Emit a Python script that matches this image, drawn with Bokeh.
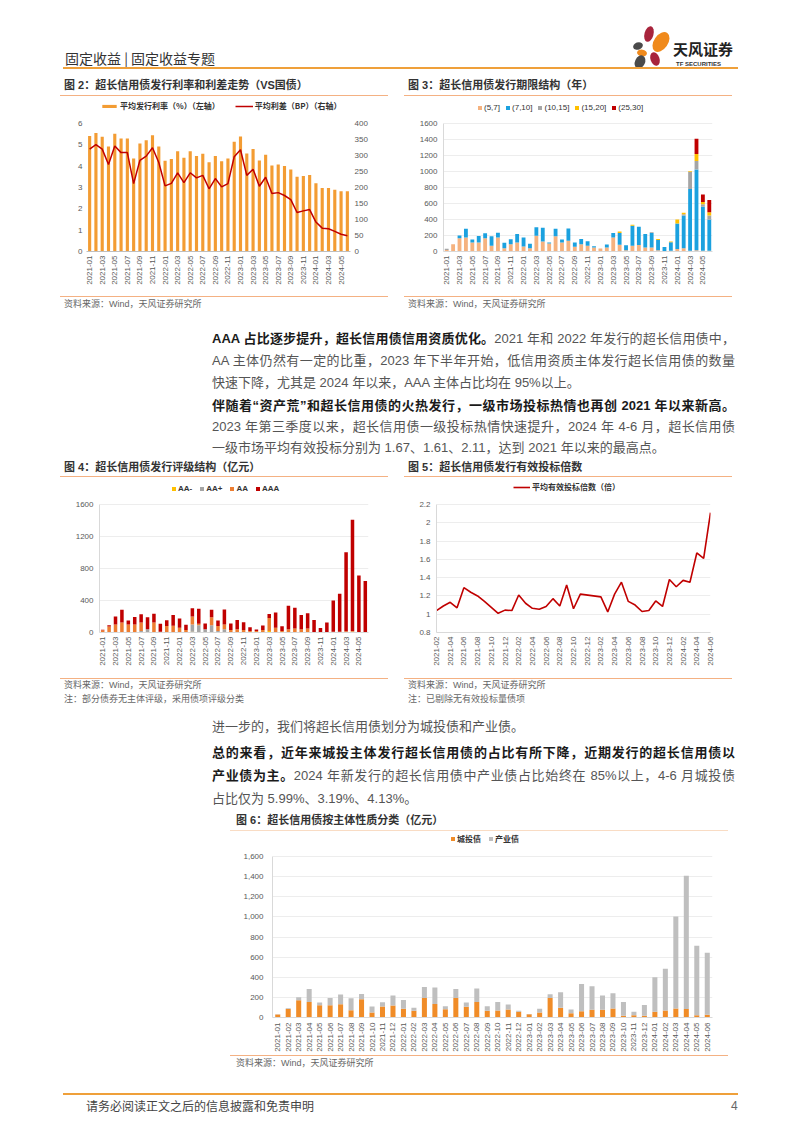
import math
from bokeh.plotting import figure
from bokeh.models import (Range1d, LinearAxis, FixedTicker, Legend, LegendItem, Div, Spacer,
                          NumeralTickFormatter)
from bokeh.layouts import column, row
from bokeh.embed import file_html
from bokeh.resources import INLINE

# ---------------- data ----------------
months = ["2021-01", "2021-02", "2021-03", "2021-04", "2021-05", "2021-06", "2021-07", "2021-08",
          "2021-09", "2021-10", "2021-11", "2021-12", "2022-01", "2022-02", "2022-03", "2022-04",
          "2022-05", "2022-06", "2022-07", "2022-08", "2022-09", "2022-10", "2022-11", "2022-12",
          "2023-01", "2023-02", "2023-03", "2023-04", "2023-05", "2023-06", "2023-07", "2023-08",
          "2023-09", "2023-10", "2023-11", "2023-12", "2024-01", "2024-02", "2024-03", "2024-04",
          "2024-05", "2024-06"]

# Fig 2: average issue rate (%) and average spread (BP)
avg_rate = [5.41, 5.55, 5.38, 4.92, 5.52, 5.30, 5.30, 4.36, 5.06, 5.22, 5.45, 4.92,
            4.25, 4.34, 4.70, 4.39, 4.70, 4.48, 4.58, 4.18, 4.48, 4.23, 4.36, 5.14,
            5.39, 4.59, 4.81, 4.26, 4.53, 4.03, 4.08, 4.01, 3.84, 3.50, 3.54, 3.59,
            3.20, 2.98, 2.98, 2.90, 2.82, 2.82]
avg_spread = [320, 334, 320, 272, 330, 309, 309, 212, 285, 298, 324, 278,
              205, 213, 246, 215, 246, 230, 238, 196, 228, 202, 212, 296,
              318, 238, 257, 204, 232, 181, 184, 175, 162, 122, 127, 131,
              92, 73, 71, 63, 54, 49]

# Fig 3: term structure (亿元)
term_labels = ["(5,7]", "(7,10]", "(10,15]", "(15,20]", "(25,30]"]
term_5_7 = [20, 92, 167, 175, 113, 113, 167, 71, 175, 42, 92, 113, 63, 42, 197, 125, 100, 192, 113, 134,
            59, 92, 71, 50, 36, 50, 175, 84, 17, 71, 80, 50, 50, 17, 0, 10, 30, 40, 10, 15, 10, 10]
term_7_10 = [0, 0, 34, 109, 36, 82, 61, 120, 59, 67, 60, 105, 112, 54, 107, 172, 12, 92, 36, 153,
             53, 63, 58, 16, 0, 36, 56, 147, 62, 252, 230, 168, 181, 128, 56, 105, 320, 410, 770, 1010, 550, 390]
term_10_15 = [13, 0, 0, 0, 0, 0, 0, 0, 0, 0, 0, 0, 0, 0, 0, 0, 0, 0, 0, 0,
              0, 0, 0, 0, 0, 0, 0, 0, 0, 0, 0, 0, 10, 0, 0, 0, 0, 15, 215, 105, 30, 50]
term_15_20 = [0, 0, 0, 0, 0, 0, 0, 0, 0, 0, 0, 0, 0, 0, 0, 0, 0, 0, 0, 0,
              0, 0, 0, 0, 0, 0, 0, 20, 0, 10, 0, 0, 0, 10, 0, 10, 49, 20, 8, 90, 30, 40]
term_25_30 = [0, 0, 0, 0, 0, 0, 0, 0, 0, 0, 0, 0, 0, 0, 0, 0, 0, 0, 0, 0,
              0, 0, 0, 0, 0, 0, 0, 0, 0, 0, 0, 0, 0, 0, 0, 0, 0, 0, 0, 189, 93, 154]

# Fig 4: rating structure (亿元)
rating_labels = ["AA-", "AA+", "AA", "AAA"]
rating_AAm = [0, 5, 0, 0, 0, 0, 0, 0, 0, 0, 0, 0, 0, 0, 10, 0, 0, 0, 0, 0,
              0, 0, 0, 0, 0, 0, 20, 0, 0, 0, 0, 0, 0, 0, 0, 0, 0, 0, 0, 0, 0, 0]
rating_AAp = [3, 0, 0, 0, 0, 0, 20, 40, 0, 0, 0, 0, 0, 0, 90, 90, 40, 90, 20, 40,
              0, 0, 0, 0, 0, 0, 0, 0, 0, 0, 0, 0, 0, 0, 0, 0, 0, 0, 5, 10, 0, 0]
rating_AA = [25, 70, 100, 125, 100, 100, 105, 0, 125, 10, 80, 85, 60, 30, 100, 20, 0, 100, 60, 60,
             30, 40, 30, 20, 20, 30, 160, 60, 20, 40, 50, 40, 50, 5, 0, 5, 10, 10, 10, 10, 5, 5]
rating_AAA = [5, 17, 101, 159, 49, 95, 103, 151, 109, 99, 72, 133, 115, 66, 104, 187, 72, 94, 69, 187,
              82, 115, 99, 46, 16, 56, 51, 191, 59, 293, 260, 178, 191, 150, 56, 120, 389, 475, 988, 1389, 708, 639]

# Fig 5: average effective bid multiple
bid_months = ["2021-02", "2021-03", "2021-04", "2021-05", "2021-06", "2021-07", "2021-08", "2021-09",
              "2021-10", "2021-11", "2021-12", "2022-01", "2022-02", "2022-03", "2022-04", "2022-05",
              "2022-06", "2022-07", "2022-08", "2022-09", "2022-10", "2022-11", "2023-02", "2023-03",
              "2023-04", "2023-05", "2023-06", "2023-07", "2023-08", "2023-09", "2023-10", "2023-11",
              "2023-12", "2024-01", "2024-02", "2024-03", "2024-04", "2024-05", "2024-06"]
bid_multiple = [1.04, 1.09, 1.13, 1.07, 1.29, 1.24, 1.20, 1.14, 1.075, 1.01, 1.045, 1.04, 1.21, 1.12,
                1.065, 1.055, 1.085, 1.17, 1.09, 1.32, 1.06, 1.22, 1.19, 1.025, 1.22, 1.35, 1.14, 1.10,
                1.03, 1.04, 1.145, 1.085, 1.38, 1.30, 1.37, 1.35, 1.67, 1.61, 2.11]

# Fig 6: issuer type (亿元)
chengtou = [30, 85, 172, 155, 122, 122, 132, 73, 182, 50, 109, 119, 86, 66, 195, 135, 83, 195, 106, 155,
            66, 69, 79, 56, 33, 50, 195, 96, 43, 63, 76, 76, 89, 17, 23, 17, 56, 69, 89, 84, 23, 27]
chanye = [3, 7, 29, 129, 27, 73, 96, 118, 52, 59, 43, 99, 89, 30, 109, 162, 29, 89, 43, 132,
          46, 86, 50, 10, 3, 36, 36, 155, 36, 270, 234, 142, 152, 138, 33, 108, 343, 416, 914, 1325, 690, 617]

# ---------------- styling helpers ----------------
CJK = "'Noto Sans CJK SC', sans-serif"
MIX = "'Liberation Sans', 'Noto Sans CJK SC', sans-serif"
LINE_OR = "#F4B183"
HEAD_OR = "#EFA03A"
PW = 802


def t(x, yc, s, size, color="#333", weight="normal", family=MIX, lh=None, extra=""):
    lh = lh or size + 8
    return (f'<div style="position:absolute;left:{x}px;top:{yc - lh / 2:.1f}px;height:{lh}px;'
            f'line-height:{lh}px;font-size:{size}px;color:{color};font-weight:{weight};'
            f'font-family:{family};white-space:nowrap;{extra}">{s}</div>')


def pline(x, yc, s, width, justify=True, size=13):
    lh = 16
    al = "text-align:justify;text-align-last:justify;" if justify else "text-align:left;"
    return (f'<div style="position:absolute;left:{x}px;top:{yc - lh / 2:.1f}px;width:{width}px;height:{lh}px;'
            f'line-height:{lh}px;font-size:{size}px;color:#555;font-family:{MIX};overflow:visible;{al}">{s}</div>')


def hl(x, y, w, th, color):
    return f'<div style="position:absolute;left:{x}px;top:{y}px;width:{w}px;height:{th}px;background:{color};"></div>'


def block(w, h, parts):
    html = f'<div style="position:relative;width:{w}px;height:{h}px;overflow:hidden;">{"".join(parts)}</div>'
    return Div(text=html, width=w, height=h, margin=(0, 0, 0, 0))


def base_fig(w, h, l, r, b, xr, y0, y1, head_px, plot_px):
    # the frame also holds a legend strip of head_px above the top value
    y_end = y0 + (y1 - y0) * (plot_px + head_px) / plot_px
    p = figure(width=w, height=h, x_range=xr, y_range=Range1d(y0, y_end), output_backend="svg",
               toolbar_location=None, min_border_left=l, min_border_right=r,
               min_border_top=0, min_border_bottom=b, outline_line_color=None,
               background_fill_color="white", border_fill_color="white", margin=(0, 0, 0, 0))
    p.xgrid.visible = False
    return p


def style_axis(ax, line_color="#BFBFBF", standoff=4, bounds=None):
    ax.major_tick_line_color = None
    ax.minor_tick_line_color = None
    ax.major_tick_out = 0
    ax.major_tick_in = 0
    ax.minor_tick_out = 0
    ax.minor_tick_in = 0
    ax.major_label_text_font = "Liberation Sans"
    ax.major_label_text_font_size = "8px"
    ax.major_label_text_color = "#595959"
    ax.major_label_standoff = standoff
    ax.axis_line_color = line_color
    if bounds is not None:
        ax.bounds = bounds


def month_xaxis(p, labels, step):
    ax = p.xaxis[0]
    idx = list(range(0, len(labels), step))
    ax.ticker = FixedTicker(ticks=idx)
    ax.major_label_overrides = {i: labels[i] for i in idx}
    ax.major_label_orientation = math.pi / 2


def add_legend(p, items, x, y, gw, gh, spacing, bold=True, font="Noto Sans CJK SC", standoff=2):
    lg = Legend(items=items, location=(x, y), orientation="horizontal", padding=0, margin=0,
                spacing=spacing, label_standoff=standoff, glyph_width=gw, glyph_height=gh,
                label_height=10, label_width=5, border_line_color=None, background_fill_alpha=0,
                label_text_font=font, label_text_font_size="8px", label_text_color="#333",
                label_text_font_style="bold" if bold else "normal")
    p.add_layout(lg, "center")


xs = list(range(len(months)))
XR = (-0.5, len(months) - 0.5)

# ---------------- Fig 2 ----------------
p2 = base_fig(328, 200, 26, 38, 45, Range1d(*XR), 0, 6, 27, 128)
p2.extra_y_ranges = {"bp": Range1d(0, 400 * (128 + 27) / 128)}
r_bar2 = p2.vbar(x=xs, top=avg_rate, width=0.5, color="#F39C33", line_color=None)
r_line2 = p2.line(x=xs, y=avg_spread, y_range_name="bp", color="#C00000", line_width=1.5)
p2.add_layout(LinearAxis(y_range_name="bp", ticker=FixedTicker(ticks=list(range(0, 401, 50)))), "right")
p2.yaxis[0].ticker = FixedTicker(ticks=[0, 1, 2, 3, 4, 5, 6])
p2.ygrid.visible = False
for ax in p2.yaxis:
    style_axis(ax, None, 4)
style_axis(p2.xaxis[0], "#BFBFBF", 4)
month_xaxis(p2, months, 2)
add_legend(p2, [LegendItem(label="平均发行利率（%）（左轴）", renderers=[r_bar2]),
                LegendItem(label="平均利差（BP）（右轴）", renderers=[r_line2])],
           14, 140, 18, 4, 15)

# ---------------- Fig 3 ----------------
p3 = base_fig(328, 200, 39, 20, 45, Range1d(*XR), 0, 1600, 27, 128)
src3 = {"x": xs, "a": term_5_7, "b": term_7_10, "c": term_10_15, "d": term_15_20, "e": term_25_30}
r3 = p3.vbar_stack(["a", "b", "c", "d", "e"], x="x", width=0.6, source=src3,
                   color=["#F5B27F", "#1BA1DF", "#A5A5A5", "#FFC000", "#C00000"], line_color=None)
p3.yaxis[0].ticker = FixedTicker(ticks=list(range(0, 1601, 200)))
p3.ygrid.grid_line_color = "#EDEDED"
style_axis(p3.yaxis[0], "#D9D9D9", 6, (0, 1600))
style_axis(p3.xaxis[0], "#D9D9D9", 4)
month_xaxis(p3, months, 2)
add_legend(p3, [LegendItem(label=term_labels[i], renderers=[r3[i]]) for i in range(5)],
           34, 139, 5, 5, 5, bold=False, font="Liberation Sans")

# ---------------- Fig 4 ----------------
p4 = base_fig(328, 200, 39, 20, 46, Range1d(*XR), 0, 1600, 26, 128)
src4 = {"x": xs, "a": rating_AAm, "b": rating_AAp, "c": rating_AA, "d": rating_AAA}
r4 = p4.vbar_stack(["a", "b", "c", "d"], x="x", width=0.55, source=src4,
                   color=["#FFC000", "#A5A5A5", "#ED7D31", "#C00000"], line_color=None)
p4.yaxis[0].ticker = FixedTicker(ticks=[0, 400, 800, 1200, 1600])
p4.ygrid.grid_line_color = "#EDEDED"
style_axis(p4.yaxis[0], "#D9D9D9", 6, (0, 1600))
style_axis(p4.xaxis[0], "#D9D9D9", 4)
month_xaxis(p4, months, 2)
add_legend(p4, [LegendItem(label=rating_labels[i], renderers=[r4[i]]) for i in range(4)],
           72, 139, 5, 5, 7, bold=True, font="Liberation Sans")

# ---------------- Fig 5 ----------------
bid_axis = months[1:]
p5 = base_fig(328, 200, 32, 22, 46, Range1d(0, len(bid_axis) - 1), 0.8, 2.2, 26, 128)
bx = [bid_axis.index(m) for m in bid_months]
r5 = p5.line(x=bx, y=bid_multiple, color="#C00000", line_width=1.6)
yt5 = [0.8, 1.0, 1.2, 1.4, 1.6, 1.8, 2.0, 2.2]
p5.yaxis[0].ticker = FixedTicker(ticks=yt5)
p5.yaxis[0].major_label_overrides = {0.8: "0.8", 1.0: "1", 1.2: "1.2", 1.4: "1.4", 1.6: "1.6",
                                     1.8: "1.8", 2.0: "2", 2.2: "2.2"}
p5.ygrid.grid_line_color = "#EDEDED"
style_axis(p5.yaxis[0], "#D9D9D9", 6, (0.8, 2.2))
style_axis(p5.xaxis[0], "#D9D9D9", 4)
month_xaxis(p5, bid_axis, 2)
add_legend(p5, [LegendItem(label="平均有效投标倍数（倍）", renderers=[r5])], 77, 140, 17, 4, 5)

# ---------------- Fig 6 ----------------
p6 = base_fig(498, 223, 42, 16, 38, Range1d(*XR), 0, 1600, 24, 161)
src6 = {"x": xs, "a": chengtou, "b": chanye}
r6 = p6.vbar_stack(["a", "b"], x="x", width=0.48, source=src6, color=["#F08C28", "#BFBFBF"],
                   line_color=None)
p6.yaxis[0].ticker = FixedTicker(ticks=list(range(0, 1601, 200)))
p6.yaxis[0].formatter = NumeralTickFormatter(format="0,0")
p6.ygrid.grid_line_color = "#EDEDED"
style_axis(p6.yaxis[0], "#D9D9D9", 9, (0, 1600))
style_axis(p6.xaxis[0], "#D9D9D9", 5)
month_xaxis(p6, months, 1)
add_legend(p6, [LegendItem(label="城投债", renderers=[r6[0]]), LegendItem(label="产业债", renderers=[r6[1]])],
           178, 173, 5, 5, 7)

# ---------------- page blocks ----------------
logo_svg = ('<svg style="position:absolute;left:632px;top:20px;" width="48" height="52" viewBox="0 0 48 52">'
            '<ellipse cx="17" cy="14" rx="4.5" ry="8" fill="#A8243C" transform="rotate(15 17 14)"/>'
            '<ellipse cx="29" cy="22" rx="7" ry="11" fill="#F08A1C" transform="rotate(35 29 22)"/>'
            '<ellipse cx="6" cy="26" rx="5" ry="3.6" fill="#4A4A4A" transform="rotate(-20 6 26)"/>'
            '<ellipse cx="10" cy="33" rx="5" ry="3.4" fill="#F08A1C" transform="rotate(10 10 33)"/>'
            '<ellipse cx="8" cy="42" rx="5" ry="7" fill="#4A4A4A" transform="rotate(25 8 42)"/>'
            '<ellipse cx="23" cy="39" rx="4.5" ry="7" fill="#A8243C" transform="rotate(-20 23 39)"/>'
            '</svg>')

header = block(PW, 74, [
    t(65, 58, "固定收益 | 固定收益专题", 14, "#333", family=CJK),
    logo_svg,
    t(673, 48, "天风证券", 15, "#222", "bold", CJK, lh=15),
    t(676, 64, "TF SECURITIES", 6, "#333", "bold", "'Liberation Sans Narrow','Liberation Sans',sans-serif", lh=6),
    hl(63, 67, 675, 2, HEAD_OR),
])


def title_block(w, h, x, yc, s, line_y, line_color=LINE_OR):
    return block(w, h, [t(x, yc, s, 11, "#333", "bold", MIX), hl(0, line_y, w, 1, line_color)])


def src_block(w, h, x, yc, s, line=True):
    parts = [t(x, yc, s, 9, "#666", "normal", MIX)]
    if line:
        parts.insert(0, hl(0, 0, w, 1, LINE_OR))
    return block(w, h, parts)


SRC = "资料来源：Wind，天风证券研究所"
BOLD = '<b style="color:#1a1a1a">'

col2 = column(title_block(328, 22, 4, 11, "图 2：超长信用债发行利率和利差走势（VS国债）", 21), p2,
              src_block(328, 20, 4, 8, SRC), spacing=0)
col3 = column(title_block(328, 22, 4, 11, "图 3：超长信用债发行期限结构（年）", 21), p3,
              src_block(328, 20, 4, 8, SRC), spacing=0)
row1 = row(Spacer(width=60, height=242, margin=(0, 0, 0, 0)), col2,
           Spacer(width=16, height=242, margin=(0, 0, 0, 0)), col3, spacing=0)

text1 = block(PW, 141, [
    pline(212, 23, BOLD + "AAA 占比逐步提升，超长信用债信用资质优化。</b>2021 年和 2022 年发行的超长信用债中，", 523),
    pline(212, 45, "AA 主体仍然有一定的比重，2023 年下半年开始，低信用资质主体发行超长信用债的数量", 523),
    pline(212, 67, "快速下降，尤其是 2024 年以来，AAA 主体占比均在 95%以上。", 523, False),
    pline(212, 90, BOLD + "伴随着“资产荒”和超长信用债的火热发行，一级市场投标热情也再创 2021 年以来新高。</b>", 523),
    pline(212, 111, "2023 年第三季度以来，超长信用债一级投标热情快速提升，2024 年 4-6 月，超长信用债", 523),
    pline(212, 132, "一级市场平均有效投标分别为 1.67、1.61、2.11，达到 2021 年以来的最高点。", 523, False),
])

col4 = column(title_block(328, 21, 4, 10, "图 4：超长信用债发行评级结构（亿元）", 19), p4,
              src_block(328, 14, 4, 7, SRC),
              src_block(328, 14, 4, 7, "注：部分债券无主体评级，采用债项评级分类", line=False), spacing=0)
col5 = column(title_block(328, 21, 4, 10, "图 5：超长信用债发行有效投标倍数", 19), p5,
              src_block(328, 14, 4, 7, SRC),
              src_block(328, 14, 4, 7, "注：已剔除无有效投标量债项", line=False), spacing=0)
row2 = row(Spacer(width=60, height=249, margin=(0, 0, 0, 0)), col4,
           Spacer(width=16, height=249, margin=(0, 0, 0, 0)), col5, spacing=0)

text2 = block(PW, 104, [
    pline(212, 21, "进一步的，我们将超长信用债划分为城投债和产业债。", 523, False),
    pline(212, 47, BOLD + "总的来看，近年来城投主体发行超长信用债的占比有所下降，近期发行的超长信用债以</b>", 523),
    pline(212, 70, BOLD + "产业债为主。</b>2024 年新发行的超长信用债中产业债占比始终在 85%以上，4-6 月城投债", 523),
    pline(212, 93, "占比仅为 5.99%、3.19%、4.13%。", 523, False),
])

col6 = column(title_block(498, 22, 6, 10, "图 6：超长信用债按主体性质分类（亿元）", 20, "#F9DCC4"), p6,
              src_block(498, 17, 6, 8, SRC), spacing=0)
row6 = row(Spacer(width=230, height=262, margin=(0, 0, 0, 0)), col6, spacing=0)

footer = block(PW, 52, [
    hl(63, 21, 675, 2, HEAD_OR),
    t(86, 34, "请务必阅读正文之后的信息披露和免责申明", 12, "#444", family=CJK),
    t(731, 34, "4", 12, "#666", family=MIX),
])

page = column(header, row1, text1, row2, text2, row6, footer, spacing=0)

open("out.html", "w").write(file_html(page, INLINE))
